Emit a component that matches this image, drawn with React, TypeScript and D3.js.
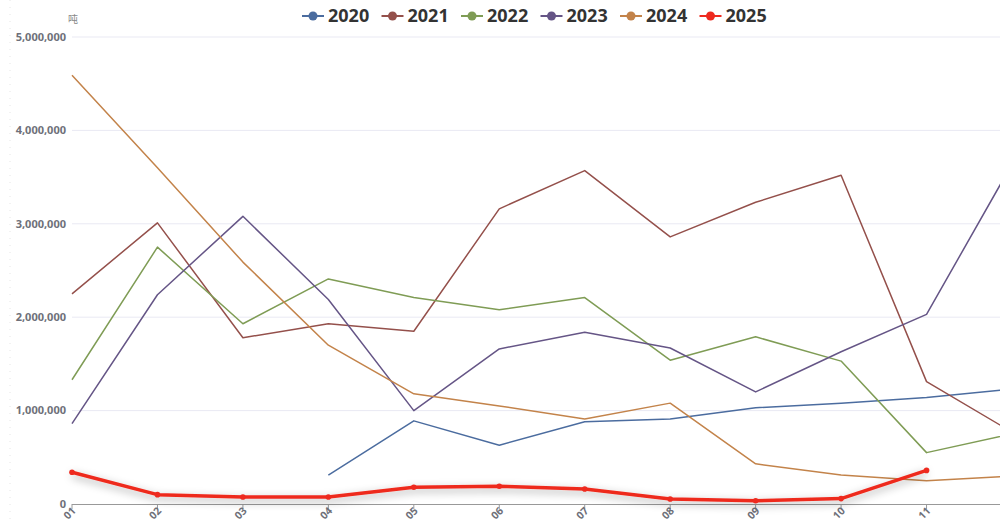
import React, { useEffect, useRef } from 'react';
import * as d3 from 'd3';

const months = ['01', '02', '03', '04', '05', '06', '07', '08', '09', '10', '11', '12'];
const years = ['2020', '2021', '2022', '2023', '2024', '2025'];
const colors = ['#4b6c9f', '#94504b', '#7f9c55', '#655586', '#c3834a', '#ee2a1f'];
const yTicks = [0, 1000000, 2000000, 3000000, 4000000, 5000000];

// tonnes per month, null = no data
const v2020 = [null, null, null, 310000, 890000, 630000, 880000, 910000, 1030000, 1080000, 1140000, 1230000];
const v2021 = [2250000, 3010000, 1780000, 1930000, 1850000, 3160000, 3570000, 2860000, 3230000, 3520000, 1310000, 770000];
const v2022 = [1330000, 2750000, 1930000, 2410000, 2210000, 2080000, 2210000, 1540000, 1790000, 1530000, 550000, 750000];
const v2023 = [860000, 2240000, 3080000, 2190000, 1000000, 1660000, 1840000, 1670000, 1200000, 1630000, 2030000, 3640000];
const v2024 = [4590000, 3600000, 2590000, 1700000, 1180000, 1050000, 910000, 1080000, 430000, 310000, 250000, 300000];
const v2025 = [340000, 100000, 75000, 75000, 180000, 190000, 160000, 54000, 35000, 58000, 360000, null];
const seriesValues = [v2020, v2021, v2022, v2023, v2024, v2025];

const App = () => {
  const ref = useRef(null);

  useEffect(() => {
    const width = 1000;
    const height = 521;
    const svg = d3.select(ref.current);
    svg.selectAll('*').remove();

    const x = d3.scalePoint().domain(months).range([72, 1012]);
    const y = d3.scaleLinear().domain([0, 5000000]).range([504, 37]);

    const defs = svg.append('defs');
    const f = defs.append('filter').attr('id', 'shadow')
      .attr('x', '-10%').attr('y', '-100%').attr('width', '120%').attr('height', '300%');
    f.append('feDropShadow').attr('dx', 0).attr('dy', 3).attr('stdDeviation', 4)
      .attr('flood-color', '#000').attr('flood-opacity', 0.35);

    // faint dotted edge
    svg.append('line').attr('x1', 10).attr('x2', 10).attr('y1', 0).attr('y2', height)
      .attr('stroke', '#e6e6e6').attr('stroke-dasharray', '1 6');

    // grid
    svg.append('g').selectAll('line').data(yTicks.filter(t => t > 0)).enter().append('line')
      .attr('x1', 72).attr('x2', width)
      .attr('y1', d => y(d)).attr('y2', d => y(d))
      .attr('stroke', '#e9e9f3').attr('stroke-width', 1);

    // y labels
    svg.append('g').selectAll('text').data(yTicks).enter().append('text')
      .attr('x', 66).attr('y', d => y(d)).attr('dy', '0.35em')
      .attr('text-anchor', 'end')
      .style('font-family', '"Noto Sans", sans-serif').style('font-size', '11px').style('font-weight', 'bold')
      .attr('fill', '#6e7079')
      .text(d => d3.format(',')(d));

    svg.append('text').attr('x', 68).attr('y', 23)
      .style('font-family', '"Noto Sans CJK SC", sans-serif').style('font-size', '10px')
      .attr('fill', '#888').text('吨');

    // x axis
    svg.append('line').attr('x1', 72).attr('x2', width).attr('y1', 504.5).attr('y2', 504.5)
      .attr('stroke', '#999').attr('stroke-width', 1);
    svg.append('g').selectAll('line').data(months).enter().append('line')
      .attr('x1', d => x(d)).attr('x2', d => x(d)).attr('y1', 504).attr('y2', 509)
      .attr('stroke', '#999');
    svg.append('g').selectAll('text').data(months).enter().append('text')
      .attr('transform', d => `translate(${x(d) + 2},${509}) rotate(-45)`)
      .attr('text-anchor', 'end').attr('dy', '0.35em')
      .style('font-family', '"Noto Sans", sans-serif').style('font-size', '10.5px').style('font-weight', 'bold')
      .attr('fill', '#6e7079')
      .text(d => d);

    const line = d3.line()
      .defined(d => d[1] != null)
      .x(d => x(d[0]))
      .y(d => y(d[1]));

    seriesValues.forEach((vals, i) => {
      const pts = months.map((m, j) => [m, vals[j]]);
      const last = i === 5;
      svg.append('path')
        .datum(pts)
        .attr('d', line)
        .attr('fill', 'none')
        .attr('stroke', colors[i])
        .attr('stroke-width', last ? 3.5 : 1.5)
        .attr('stroke-linejoin', 'round')
        .attr('filter', last ? 'url(#shadow)' : null);
      if (last) {
        svg.append('g').selectAll('circle').data(pts.filter(p => p[1] != null)).enter().append('circle')
          .attr('cx', d => x(d[0])).attr('cy', d => y(d[1])).attr('r', 2.8)
          .attr('fill', colors[i]);
      }
    });

    // legend
    const legend = svg.append('g').attr('transform', 'translate(302,16)');
    years.forEach((yr, i) => {
      const g = legend.append('g').attr('transform', `translate(${i * 79.5},0)`);
      g.append('line').attr('x1', 0).attr('x2', 22).attr('y1', 0).attr('y2', 0)
        .attr('stroke', colors[i]).attr('stroke-width', 2);
      g.append('circle').attr('cx', 11).attr('cy', 0).attr('r', 4.5).attr('fill', colors[i]);
      g.append('text').attr('x', 26).attr('y', 0).attr('dy', '0.35em')
        .style('font-family', '"Noto Sans", sans-serif').style('font-size', '18px').style('font-weight', 'bold')
        .attr('fill', '#333').text(yr);
    });
  }, []);

  return (
    <svg ref={ref} width={1000} height={521}
      style={{ position: 'absolute', left: 0, top: 0, background: '#fff', overflow: 'hidden' }} />
  );
};

export default App;
